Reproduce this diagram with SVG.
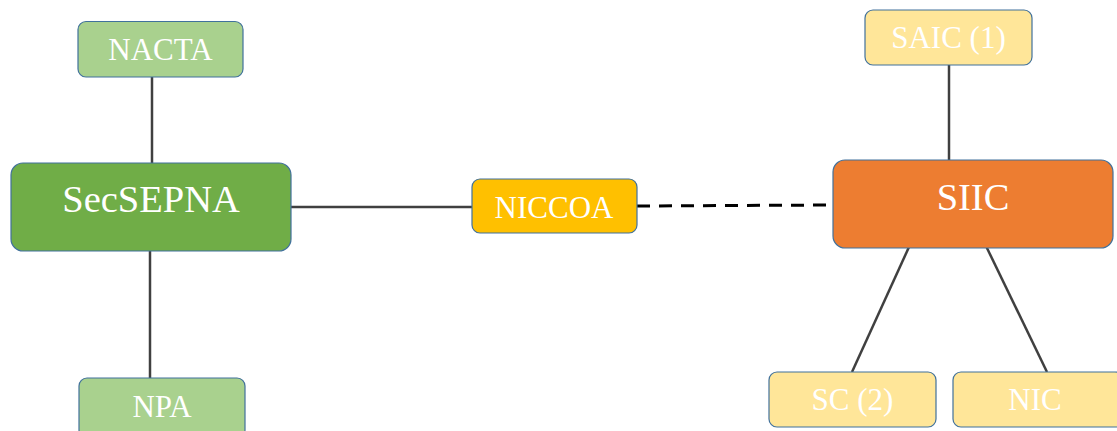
<svg xmlns="http://www.w3.org/2000/svg" width="1117" height="431" viewBox="0 0 1117 431">
<style>
.box{stroke:#41719C;stroke-width:1.2}
.t{font-family:"Liberation Serif","Times New Roman",serif;fill:#fff;text-anchor:middle}
.s{font-size:31px}
.b{font-size:38.5px}
.ln{stroke:#404040;stroke-width:2.5;fill:none}
.dash{stroke:#000;stroke-width:3;stroke-dasharray:13 9;fill:none}
</style>
<rect width="1117" height="431" fill="#fff"/>
<g id="connectors">
<line class="ln" x1="152" y1="77" x2="152" y2="163"/>
<line class="ln" x1="150" y1="251" x2="150" y2="378"/>
<line class="ln" x1="290" y1="207" x2="472" y2="207"/>
<line class="dash" x1="637" y1="206" x2="833" y2="205"/>
<line class="ln" x1="949" y1="65" x2="949" y2="160"/>
<line class="ln" x1="909" y1="247" x2="852" y2="372"/>
<line class="ln" x1="986" y1="246" x2="1047" y2="372"/>
</g>
<g id="nacta"><rect class="box" x="78" y="21.5" width="165" height="55.5" rx="8" fill="#A9D18E"/><text class="t s" x="160.5" y="60">NACTA</text></g>
<g id="secsepna"><rect class="box" x="11" y="163" width="280" height="88" rx="12" fill="#70AD47"/><text class="t b" x="151" y="212">SecSEPNA</text></g>
<g id="npa"><rect class="box" x="79" y="378" width="166" height="60" rx="8" fill="#A9D18E"/><text class="t s" x="162" y="417">NPA</text></g>
<g id="niccoa"><rect class="box" x="472" y="179" width="165" height="54" rx="8" fill="#FFC000"/><text class="t s" x="554" y="218">NICCOA</text></g>
<g id="siic"><rect class="box" x="833" y="160" width="280" height="88" rx="12" fill="#ED7D31"/><text class="t b" x="973" y="210">SIIC</text></g>
<g id="saic"><rect class="box" x="865" y="10" width="167" height="55" rx="8" fill="#FFE699"/><text class="t s" x="948.5" y="48">SAIC (1)</text></g>
<g id="sc"><rect class="box" x="769" y="372" width="167" height="55" rx="8" fill="#FFE699"/><text class="t s" x="852.5" y="410">SC (2)</text></g>
<g id="nic"><rect class="box" x="953" y="372" width="170" height="55" rx="8" fill="#FFE699"/><text class="t s" x="1035" y="410">NIC</text></g>
</svg>
